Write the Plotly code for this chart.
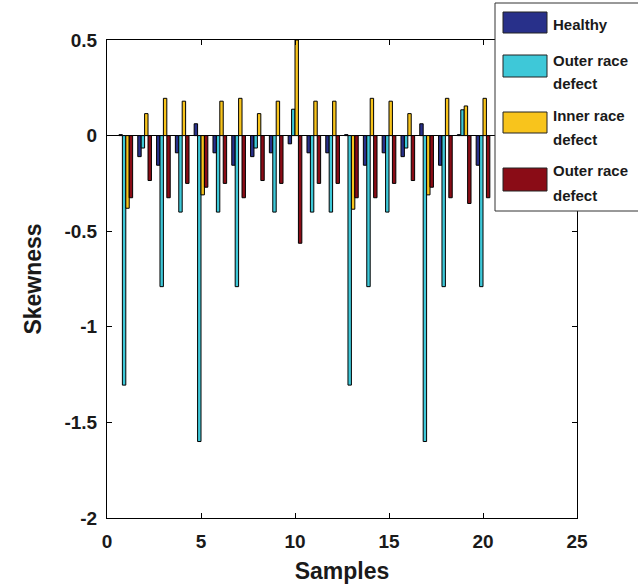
import plotly.graph_objects as go

samples = list(range(1, 21))
healthy = [0.005, -0.11, -0.155, -0.09, 0.062, -0.09, -0.155, -0.11, -0.09, -0.043,
           -0.09, -0.09, 0.005, -0.155, -0.09, -0.11, 0.062, -0.155, 0.005, -0.155]
outer1 = [-1.305, -0.065, -0.79, -0.40, -1.60, -0.40, -0.79, -0.065, -0.40, 0.138,
          -0.40, -0.40, -1.305, -0.79, -0.40, -0.065, -1.60, -0.79, 0.135, -0.79]
inner = [-0.38, 0.115, 0.195, 0.18, -0.31, 0.18, 0.195, 0.115, 0.18, 0.50,
         0.18, 0.18, -0.385, 0.195, 0.18, 0.115, -0.31, 0.195, 0.155, 0.195]
outer2 = [-0.325, -0.235, -0.325, -0.25, -0.27, -0.25, -0.325, -0.235, -0.25, -0.563,
          -0.25, -0.25, -0.325, -0.325, -0.25, -0.235, -0.27, -0.325, -0.355, -0.325]

names = ["Healthy", "Outer race<br>defect", "Inner race<br>defect", "Outer race<br>defect"]
colors = ["#28308a", "#3ec8d8", "#f8c41c", "#8a0c16"]
series = [healthy, outer1, inner, outer2]

ytickvals = [0.5, 0, -0.5, -1, -1.5, -2]
yticktext = ["0.5", "0", "-0.5", "-1", "-1.5", "-2"]
xtickvals = [0, 5, 10, 15, 20, 25]

FONT = "Liberation Sans, Arial, sans-serif"

fig = go.Figure()
for vals, nm, col in zip(series, names, colors):
    fig.add_trace(go.Bar(x=samples, y=vals, name=nm, marker=dict(color=col, line=dict(color="black", width=1)),
                         showlegend=False))

L, R, T, B = 107, 61, 40, 69
W, H = 638, 587
pw, ph = W - L - R, H - T - B

def px(xp):
    return (xp - L) / pw

def py(yp):
    return (H - B - yp) / ph

fig.update_layout(
    width=W, height=H,
    margin=dict(l=L, r=R, t=T, b=B, autoexpand=False),
    paper_bgcolor="white", plot_bgcolor="white",
    barmode="group", bargap=0.273, bargroupgap=0,
    font=dict(family=FONT, color="#1a1a1a"),
    xaxis=dict(range=[0, 25], tickvals=xtickvals, ticks="inside", ticklen=5, tickcolor="black",
               showline=True, linecolor="black", linewidth=1, mirror="ticks", showgrid=False,
               zeroline=False, tickfont=dict(size=19, weight="bold"), ticklabelstandoff=6,
               title=dict(text="Samples", font=dict(size=23, weight="bold"), standoff=12)),
    yaxis=dict(range=[-2, 0.5], tickvals=ytickvals, ticktext=yticktext, ticks="inside", ticklen=5,
               tickcolor="black", showline=True, linecolor="black", linewidth=1, mirror="ticks",
               showgrid=False, zeroline=True, zerolinecolor="black", zerolinewidth=1,
               tickfont=dict(size=19, weight="bold"), ticklabelstandoff=5,
               title=dict(text="Skewness", font=dict(size=23, weight="bold"), standoff=16)),
)

# Legend box (custom, drawn in paper coordinates)
shapes = [dict(type="rect", xref="paper", yref="paper", x0=px(495), x1=px(645), y0=py(211), y1=py(3),
               line=dict(color="#333333", width=1), fillcolor="white", layer="above")]
entries = [
    (12, 33, [("Healthy", 25)]),
    (55, 77, [("Outer race", 60), ("defect", 83)]),
    (112, 133, [("Inner race", 116), ("defect", 139)]),
    (168, 191, [("Outer race", 171), ("defect", 196)]),
]
annotations = []
for (top, bot, lines), col in zip(entries, colors):
    shapes.append(dict(type="rect", xref="paper", yref="paper", x0=px(503), x1=px(547), y0=py(bot), y1=py(top),
                       line=dict(color="#222222", width=1), fillcolor=col, layer="above"))
    for txt, yc in lines:
        annotations.append(dict(text=txt, xref="paper", yref="paper", x=px(551), y=py(yc), xanchor="left",
                                yanchor="middle", showarrow=False,
                                font=dict(size=15, weight="bold", family=FONT, color="#1a1a1a")))

fig.update_layout(shapes=shapes, annotations=annotations)
fig.write_html("out.html")
